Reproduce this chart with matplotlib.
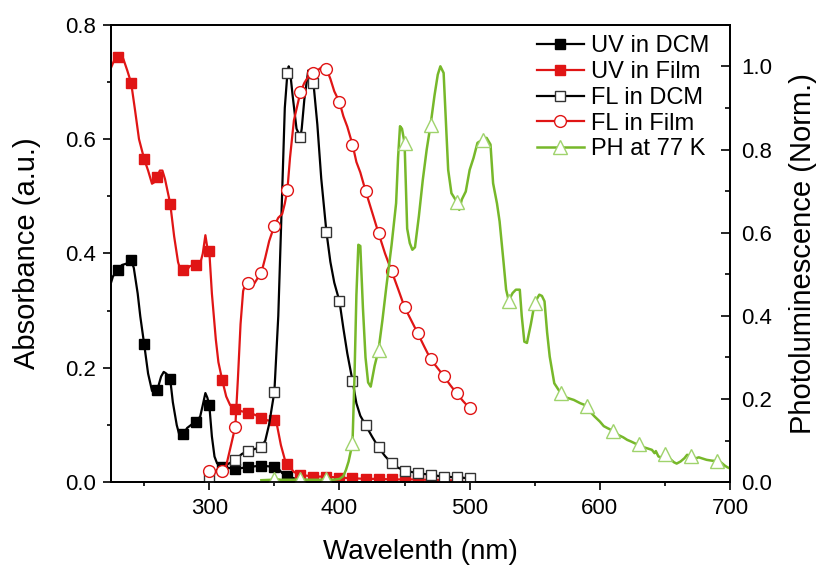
import numpy as np
import matplotlib.pyplot as plt
from matplotlib.ticker import MultipleLocator

plt.rcParams['font.family'] = ['Liberation Sans', 'DejaVu Sans']

# UV absorption in DCM (left axis)
uv_dcm_wl = [224, 226, 230, 233, 236, 240, 242, 245, 247, 250, 253, 256, 258, 260, 263, 265, 267,
             270, 272, 275, 277, 280, 283, 287, 290, 293, 295, 297, 298.5, 300, 302, 304, 306, 310,
             315, 320, 325, 330, 335, 340, 345, 350, 353, 356, 360, 365, 370, 380, 400]
uv_dcm_abs = [0.345, 0.36, 0.372, 0.38, 0.382, 0.388, 0.375, 0.33, 0.29, 0.241, 0.19, 0.16, 0.155,
              0.161, 0.185, 0.193, 0.19, 0.180, 0.14, 0.10, 0.083, 0.084, 0.095, 0.102, 0.106, 0.115,
              0.135, 0.156, 0.148, 0.135, 0.08, 0.045, 0.033, 0.027, 0.025, 0.023, 0.025, 0.026,
              0.028, 0.029, 0.028, 0.027, 0.024, 0.016, 0.011, 0.007, 0.005, 0.003, 0.002]
uv_dcm_marks = [230, 240, 250, 260, 270, 280, 290, 300, 310, 320, 330, 340, 350, 360]

# UV absorption in film (left axis)
uv_film_wl = [224, 227, 230, 232, 234, 237, 240, 243, 246, 250, 253, 256, 258, 260, 262, 264, 266,
              270, 273, 276, 278, 280, 282, 285, 290, 293, 295, 297, 298.5, 300, 302, 305, 307, 310,
              313, 316, 320, 325, 330, 335, 340, 345, 350, 352, 355, 358, 360, 365, 370, 380, 390,
              400, 410, 420, 430, 440, 450, 460, 470, 480, 490]
uv_film_abs = [0.722, 0.738, 0.743, 0.747, 0.74, 0.72, 0.698, 0.65, 0.60, 0.565, 0.545, 0.522, 0.525,
               0.534, 0.545, 0.545, 0.53, 0.487, 0.43, 0.385, 0.37, 0.371, 0.368, 0.378, 0.380, 0.382,
               0.40, 0.432, 0.41, 0.404, 0.33, 0.25, 0.21, 0.178, 0.15, 0.135, 0.128, 0.124, 0.122,
               0.118, 0.113, 0.108, 0.109, 0.10, 0.065, 0.04, 0.032, 0.018, 0.013, 0.010, 0.010,
               0.008, 0.007, 0.006, 0.006, 0.005, 0.005, 0.005, 0.004, 0.004, 0.003]
uv_film_marks = list(range(230, 500, 10))

# fluorescence in DCM (right axis)
fl_dcm_wl = [300, 303, 306, 310, 315, 320, 325, 330, 335, 340, 343, 346, 350, 353, 356, 358, 360,
             361, 362, 364, 367, 370, 371, 373, 376, 378, 380, 383, 386, 390, 393, 396, 400, 403,
             406, 410, 413, 416, 420, 425, 430, 435, 440, 445, 450, 455, 460, 470, 480, 490, 500]
fl_dcm_int = [0.010, 0.02, 0.03, 0.038, 0.045, 0.054, 0.068, 0.076, 0.08, 0.086, 0.10, 0.14, 0.218,
              0.40, 0.70, 0.90, 0.984, 1.0, 0.99, 0.93, 0.85, 0.83, 0.85, 0.92, 0.99, 0.99, 0.96,
              0.86, 0.73, 0.601, 0.53, 0.48, 0.435, 0.37, 0.31, 0.244, 0.19, 0.16, 0.138, 0.11,
              0.084, 0.063, 0.046, 0.035, 0.028, 0.025, 0.022, 0.018, 0.0135, 0.012, 0.0096]
fl_dcm_marks = [300] + list(range(320, 510, 10))

# fluorescence in film (right axis)
fl_film_wl = [300, 305, 310, 313, 316, 320, 322, 324, 326, 328, 330, 332, 334, 337, 340, 343, 346,
              350, 353, 356, 358, 360, 362, 365, 370, 373, 376, 380, 383, 386, 390, 393, 396, 400,
              403, 406, 410, 413, 416, 420, 425, 430, 435, 440, 445, 450, 455, 460, 465, 470, 475,
              480, 485, 490, 495, 500]
fl_film_int = [0.028, 0.026, 0.028, 0.04, 0.08, 0.134, 0.25, 0.38, 0.46, 0.48, 0.479, 0.47, 0.475,
               0.49, 0.504, 0.54, 0.58, 0.617, 0.636, 0.645, 0.67, 0.703, 0.78, 0.87, 0.938, 0.96,
               0.975, 0.984, 0.99, 0.997, 0.994, 0.97, 0.94, 0.914, 0.88, 0.855, 0.812, 0.77, 0.745,
               0.701, 0.65, 0.599, 0.55, 0.508, 0.465, 0.421, 0.39, 0.359, 0.327, 0.296, 0.276,
               0.256, 0.234, 0.214, 0.195, 0.178]
fl_film_marks = list(range(300, 510, 10))

# phosphorescence at 77 K (right axis)
ph_wl = [340, 348, 350, 355, 360, 365, 370, 375, 380, 385, 390, 395, 400, 403, 405, 407, 410,
         411.5, 413, 414.5, 416, 418, 420, 422, 424, 427, 430, 433, 436, 440, 443.5, 445, 446.5,
         448, 450, 452, 454, 456, 458, 461, 464, 467, 470, 473, 475.5, 477.5, 480, 482, 483.5,
         486, 490, 492, 494, 497, 500, 503, 506, 510, 513, 516, 518, 521, 523, 526, 528, 530,
         533, 535.5, 538.5, 540, 542, 544, 547, 550, 553.5, 555.5, 557.5, 559.5, 561.5, 565, 570,
         573, 576, 580, 585, 590, 593, 596, 600, 603, 606, 610, 614, 618, 621, 624, 628, 630,
         632, 636, 640, 642, 643, 645, 647, 650, 651, 654, 657, 659, 662, 665, 667, 670, 671,
         673, 676, 679, 682, 686, 690, 693, 696, 698, 700]
ph_int = [0.005, 0.006, 0.008, 0.006, 0.006, 0.006, 0.008, 0.006, 0.006, 0.006, 0.008, 0.006,
          0.008, 0.015, 0.03, 0.05, 0.094, 0.25, 0.45, 0.571, 0.568, 0.42, 0.30, 0.24, 0.23, 0.28,
          0.318, 0.39, 0.47, 0.57, 0.671, 0.78, 0.856, 0.85, 0.816, 0.61, 0.575, 0.559, 0.565,
          0.64, 0.727, 0.80, 0.86, 0.93, 0.98, 1.0, 0.984, 0.85, 0.751, 0.695, 0.675, 0.655, 0.68,
          0.699, 0.751, 0.78, 0.816, 0.824, 0.828, 0.812, 0.719, 0.67, 0.627, 0.53, 0.463, 0.437,
          0.455, 0.463, 0.463, 0.40, 0.338, 0.335, 0.38, 0.432, 0.451, 0.448, 0.435, 0.36, 0.302,
          0.238, 0.214, 0.205, 0.202, 0.198, 0.19, 0.184, 0.168, 0.158, 0.146, 0.135, 0.13, 0.124,
          0.114, 0.108, 0.102, 0.098, 0.092, 0.092, 0.086, 0.082, 0.078, 0.07, 0.075, 0.062, 0.06,
          0.068, 0.062, 0.056, 0.048, 0.045, 0.05, 0.058, 0.066, 0.064, 0.062, 0.057, 0.06, 0.057,
          0.054, 0.052, 0.051, 0.048, 0.04, 0.036, 0.033]
ph_marks = list(range(350, 700, 20))

black = '#000000'
red = '#e01515'
green = '#77b82a'
green_mk = '#9fd36c'


def mark_idx(wl, marks):
    return [i for i, w in enumerate(wl) if w in marks]


fig = plt.figure(figsize=(8.21, 5.68), dpi=100)
ax = fig.add_axes([0.1352, 0.1509, 0.7540, 0.8056])
ax2 = ax.twinx()

h1, = ax.plot(uv_dcm_wl, uv_dcm_abs, color=black, lw=1.6, marker='s', ms=6.5,
              mfc=black, mec=black, markevery=mark_idx(uv_dcm_wl, uv_dcm_marks), label='UV in DCM')
h2, = ax.plot(uv_film_wl, uv_film_abs, color=red, lw=1.6, marker='s', ms=6.5,
              mfc=red, mec=red, markevery=mark_idx(uv_film_wl, uv_film_marks), label='UV in Film')
h3, = ax2.plot(fl_dcm_wl, fl_dcm_int, color=black, lw=1.6, marker='s', ms=7.5, mew=1.0,
               mfc='white', mec='#333333', markevery=mark_idx(fl_dcm_wl, fl_dcm_marks), label='FL in DCM')
h4, = ax2.plot(fl_film_wl, fl_film_int, color=red, lw=1.6, marker='o', ms=8.5, mew=1.0,
               mfc='white', mec=red, markevery=mark_idx(fl_film_wl, fl_film_marks), label='FL in Film')
h5, = ax2.plot(ph_wl, ph_int, color=green, lw=1.8, marker='^', ms=9.5, mew=1.0,
               mfc='white', mec=green_mk, markevery=mark_idx(ph_wl, ph_marks), label='PH at 77 K')

ax.set_xlim(224.5, 700)
ax.set_ylim(0, 0.8)
ax2.set_ylim(0, 1.1)

ax.xaxis.set_major_locator(MultipleLocator(100))
ax.xaxis.set_minor_locator(MultipleLocator(50))
ax.yaxis.set_major_locator(MultipleLocator(0.2))
ax.yaxis.set_minor_locator(MultipleLocator(0.1))
ax2.yaxis.set_major_locator(MultipleLocator(0.2))
ax2.yaxis.set_minor_locator(MultipleLocator(0.1))
ax.yaxis.set_major_formatter(plt.FormatStrFormatter('%.1f'))
ax2.yaxis.set_major_formatter(plt.FormatStrFormatter('%.1f'))

ax.tick_params(axis='both', which='major', direction='out', length=6, width=1.2, labelsize=16, pad=5)
ax.tick_params(axis='both', which='minor', direction='out', length=3, width=1.2)
ax.tick_params(top=False, right=False, which='both')
ax2.tick_params(axis='y', which='major', direction='in', length=6.5, width=1.2, labelsize=16, pad=8)
ax2.tick_params(axis='y', which='minor', direction='in', length=3.5, width=1.2)

for a in (ax, ax2):
    for s in a.spines.values():
        s.set_linewidth(1.3)

ax.set_xlabel('Wavelenth (nm)', fontsize=20, labelpad=15)
ax.set_ylabel('Absorbance (a.u.)', fontsize=21, labelpad=17)
ax2.set_ylabel('Photoluminescence (Norm.)', fontsize=21, labelpad=12)

ax2.legend(handles=[h1, h2, h3, h4, h5], loc='upper left', bbox_to_anchor=(0.657, 1.018),
           frameon=False, fontsize=17, handlelength=2.0, handletextpad=0.3,
           labelspacing=0.16, borderpad=0.3)

fig.savefig('out.png', dpi=100)
